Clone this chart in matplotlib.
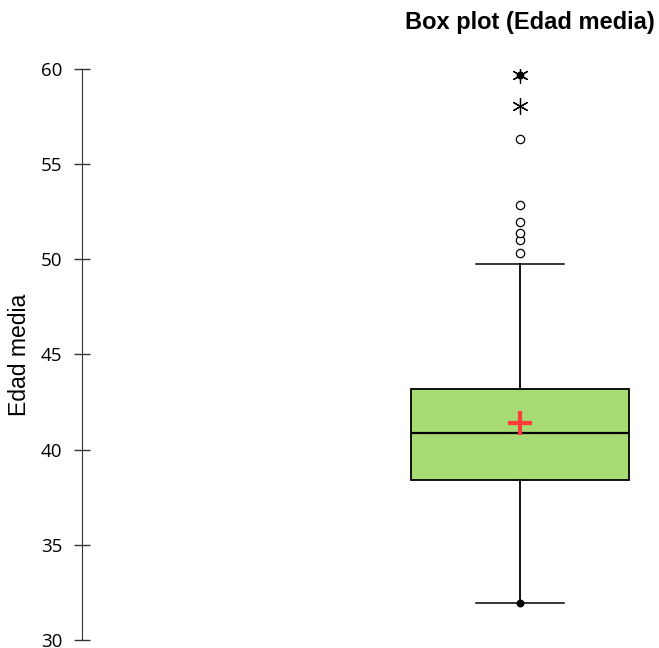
import matplotlib.pyplot as plt

plt.rcParams["font.family"] = ["Open Sans", "DejaVu Sans"]
arial = ["Liberation Sans", "DejaVu Sans"]

# Estadísticos de la variable "Edad media"
q1, mediana, q3 = 38.4, 40.86, 43.17
media = 41.38
bigote_inf, bigote_sup = 31.95, 49.77
minimo, maximo = 31.95, 59.69
atipicos_leves = [50.35, 51.03, 51.4, 51.98, 52.87, 56.33]
atipicos_extremos = [58.06, 59.69]

pos = 0.759
ancho = 0.378

fig = plt.figure(figsize=(6.59, 6.48), dpi=100)
ax = fig.add_axes([0.1244, 0.0124, 0.8756, 0.8811])

stats = [{
    "med": mediana, "q1": q1, "q3": q3,
    "whislo": bigote_inf, "whishi": bigote_sup,
    "mean": media, "fliers": [],
}]
ax.bxp(stats, positions=[pos], widths=ancho, showmeans=True, patch_artist=True,
       boxprops=dict(facecolor="#a8db74", edgecolor="black", linewidth=1.3),
       medianprops=dict(color="black", linewidth=1.6),
       whiskerprops=dict(color="black", linewidth=1.3),
       capprops=dict(color="black", linewidth=1.1),
       capwidths=ancho * 0.4,
       meanprops=dict(marker="+", markeredgecolor="#ff3b3b", markersize=17,
                      markeredgewidth=3))

ax.scatter([pos] * len(atipicos_leves), atipicos_leves, s=36, marker="o",
           facecolors="white", edgecolors="black", linewidths=0.9, zorder=3)
ax.scatter([pos] * len(atipicos_extremos), atipicos_extremos, s=130, marker=(6, 2, 0),
           color="black", linewidths=0.9, zorder=3)
ax.scatter([pos, pos], [minimo, maximo], s=22, marker="o", color="black", zorder=4)

ax.set_xlim(0, 1)
ax.set_ylim(30, 60)
ax.set_yticks([30, 35, 40, 45, 50, 55, 60])
ax.set_xticks([])
for lado in ["top", "right", "bottom"]:
    ax.spines[lado].set_visible(False)
ax.spines["left"].set_color("#333333")
ax.tick_params(axis="y", direction="inout", length=12, width=1, color="#333333",
               labelsize=13.5, pad=8)
ax.set_ylabel("Edad media", fontsize=16.5, labelpad=7, family=arial)

fig.text(0.994, 0.966, "Box plot (Edad media)", ha="right", va="center",
         fontsize=17, fontweight="bold", family=arial)

fig.savefig("out.png", dpi=100)
